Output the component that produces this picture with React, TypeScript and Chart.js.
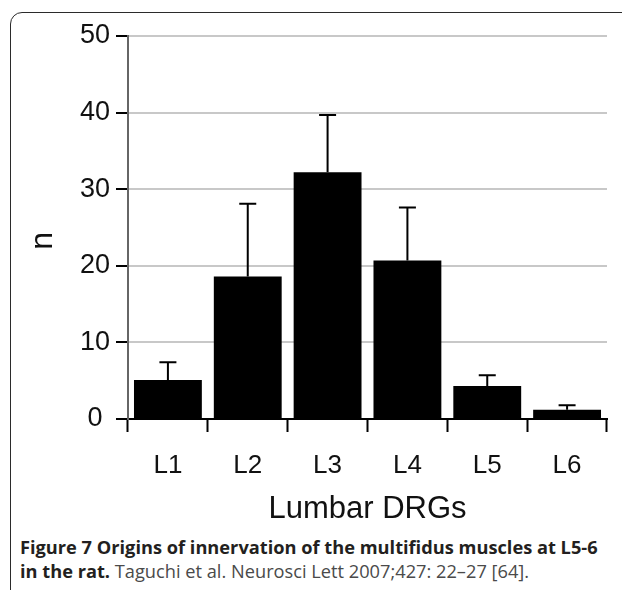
import React, { useEffect, useLayoutEffect, useRef, useState } from "react";
import { Chart, registerables } from "chart.js";

Chart.register(...registerables);

// ---- data ----
const categories = ["L1", "L2", "L3", "L4", "L5", "L6"];
const means = [5.1, 18.6, 32.2, 20.7, 4.3, 1.2];
const upperErrors = [2.3, 9.5, 7.5, 6.9, 1.4, 0.6];
const yTickValues = [0, 10, 20, 30, 40, 50];
const xTitle = "Lumbar DRGs";
const yTitle = "n";
const captionBold1 = "Figure 7 Origins of innervation of the multifidus muscles at L5-6";
const captionBold2 = "in the rat.";
const captionNormal2 = " Taguchi et al. Neurosci Lett 2007;427: 22\u201327 [64].";

const FONT = "'Liberation Sans', Arial, Helvetica, sans-serif";

const errorBarPlugin = {
  id: "errorBars",
  afterDatasetsDraw(chart: any) {
    const meta = chart.getDatasetMeta(0);
    const ys = chart.scales.y;
    const ctx = chart.ctx;
    ctx.save();
    ctx.strokeStyle = "#000";
    ctx.lineWidth = 2;
    ctx.lineCap = "butt";
    meta.data.forEach((bar: any, i: number) => {
      const x = bar.x;
      const top = ys.getPixelForValue(means[i]);
      const end = ys.getPixelForValue(means[i] + upperErrors[i]);
      ctx.beginPath();
      ctx.moveTo(x, top);
      ctx.lineTo(x, end);
      ctx.moveTo(x - 8.5, end);
      ctx.lineTo(x + 8.5, end);
      ctx.stroke();
    });
    ctx.restore();
  },
};

function BarChart() {
  const ref = useRef<HTMLCanvasElement | null>(null);
  useEffect(() => {
    if (!ref.current) return;
    const chart = new Chart(ref.current, {
      type: "bar",
      data: {
        labels: categories,
        datasets: [
          {
            data: means,
            backgroundColor: "#000",
            borderWidth: 0,
            barPercentage: 0.85,
            categoryPercentage: 1,
          },
        ],
      },
      options: {
        animation: false,
        responsive: false,
        devicePixelRatio: 1,
        layout: { padding: { top: 36, right: 15, left: 0, bottom: 0 } },
        plugins: { legend: { display: false }, tooltip: { enabled: false } },
        scales: {
          x: {
            offset: true,
            grid: {
              display: true,
              drawOnChartArea: false,
              drawTicks: true,
              tickLength: 13,
              tickColor: "#000",
              tickWidth: 2,
              offset: true,
            },
            border: { display: true, color: "#000", width: 2 },
            ticks: {
              color: "#111",
              padding: 18,
              font: { family: FONT, size: 26 },
              maxRotation: 0,
            },
            title: {
              display: true,
              text: xTitle,
              color: "#111",
              font: { family: FONT, size: 31 },
              padding: { top: 0, bottom: 3 },
            },
            afterFit: (s: any) => {
              s.height = 112;
            },
          },
          y: {
            min: 0,
            max: 50,
            afterBuildTicks: (s: any) => {
              s.ticks = yTickValues.map((v) => ({ value: v }));
            },
            grid: {
              color: "#c8c8c8",
              lineWidth: 2,
              tickColor: "#000",
              tickLength: 12,
              tickWidth: 2,
            },
            border: { display: true, color: "#666", width: 2 },
            ticks: {
              color: "#111",
              padding: 6,
              crossAlign: "center",
              font: { family: FONT, size: 27 },
            },
            title: {
              display: true,
              text: yTitle + "   ",
              color: "#111",
              font: { family: FONT, size: 32 },
              padding: { top: 24, bottom: 0 },
            },
            afterFit: (s: any) => {
              s.width = 128;
            },
          },
        },
      },
      plugins: [errorBarPlugin],
    });
    return () => chart.destroy();
  }, []);
  return (
    <canvas
      ref={ref}
      width={622}
      height={531}
      style={{ position: "absolute", left: 0, top: 0, width: 622, height: 531 }}
    />
  );
}

function Caption() {
  const l1 = useRef<HTMLDivElement | null>(null);
  const [scale, setScale] = useState(1);
  useLayoutEffect(() => {
    if (l1.current) {
      const w = l1.current.scrollWidth;
      if (w > 0) setScale(578 / w);
    }
  }, []);
  const base: React.CSSProperties = {
    position: "absolute",
    left: 20,
    whiteSpace: "nowrap",
    fontFamily: "'Open Sans', 'Noto Sans', sans-serif",
    fontSize: 17.5,
    lineHeight: "22px",
    transformOrigin: "left top",
    transform: `scaleX(${scale})`,
  };
  return (
    <>
      <div ref={l1} style={{ ...base, top: 536, fontWeight: 700, color: "#231f20" }}>
        {captionBold1}
      </div>
      <div style={{ ...base, top: 560 }}>
        <span style={{ fontWeight: 700, color: "#231f20" }}>{captionBold2}</span>
        <span style={{ fontWeight: 400, color: "#4a4a4a" }}>{captionNormal2}</span>
      </div>
    </>
  );
}

export default function App() {
  return (
    <div
      style={{
        position: "absolute",
        left: 0,
        top: 0,
        width: 622,
        height: 590,
        overflow: "hidden",
        background: "#fff",
      }}
    >
      <div
        style={{
          position: "absolute",
          left: 10,
          top: 12,
          width: 650,
          height: 590,
          border: "1.5px solid #2b2b2b",
          borderRadius: 12,
          boxSizing: "border-box",
        }}
      />
      <BarChart />
      <Caption />
    </div>
  );
}
